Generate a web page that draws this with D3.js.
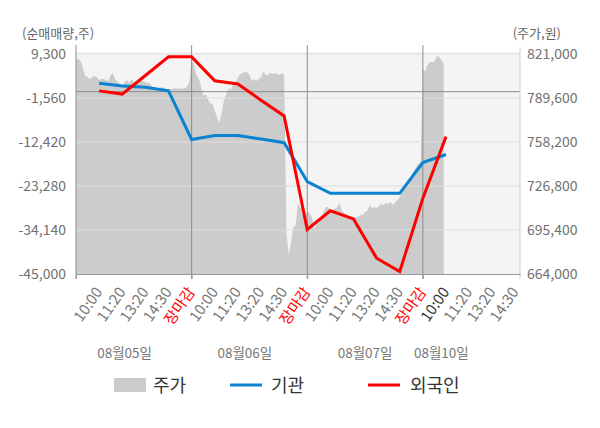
<!DOCTYPE html>
<html>
<head>
<meta charset="utf-8">
<script src="https://cdn.jsdelivr.net/npm/d3@7"></script>
<style>
  body { margin: 0; background: #fff; }
  text { font-family: "Noto Sans CJK KR", "Noto Sans", sans-serif; }
</style>
</head>
<body>
<div id="chart"></div>
<script>
// x labels for slots 1..19
var slotLabels = ["10:00","11:20","13:20","14:30","장마감",
                  "10:00","11:20","13:20","14:30","장마감",
                  "10:00","11:20","13:20","14:30","장마감",
                  "10:00","11:20","13:20","14:30"];
var dayLabels = ["08월05일","08월06일","08월07일","08월10일"];
var daySlots = [2.1, 7.3, 12.5, 15.8];

// net buying, slot 1..16
var flowSlots = [1,2,3,4,5,6,7,8,9,10,11,12,13,14,15,16];
var institution = [2100,1400,1100,200,-11800,-10800,-10800,-11700,-12600,-22200,-25100,-25100,-25100,-25100,-17500,-15500];
var foreign = [200,-600,4000,8600,8600,2700,1900,-2100,-6000,-34000,-29400,-31400,-41100,-44400,-26300,-11100];

// stock price, one value every 0.1 slot from slot 0
var price = [
  816700,817400,816000,811000,805300,804600,803200,804600,805300,804600,
  802400,803200,803200,802400,801700,806000,807400,802400,801700,799600,
  798900,801000,802400,800300,803200,801000,800300,801000,802400,801700,
  801000,800300,800300,797500,796700,796700,796700,797500,796700,796000,
  796000,796000,796000,796700,796000,796700,796000,796700,797500,801000,
  816700,813900,806000,803900,798900,791000,792500,788900,786000,785300,
  780300,776000,771800,779600,788200,792500,796700,795300,800300,801000,
  803900,806700,807400,808200,808200,806000,801700,803200,801700,803200,
  804600,808900,806000,806000,807400,806700,807400,806700,806000,807400,
  806000,694000,677600,686800,697500,699000,714700,711100,711100,706100,
  708200,707500,704700,696100,699700,700400,704000,708200,711800,711800,
  709700,708200,711100,711800,714700,709000,707500,706100,704700,704700,
  704700,704000,704700,706100,706100,708200,709000,713200,711100,711800,
  711100,712500,714000,713200,714700,714000,715400,713200,714700,716800,
  719000,721800,725400,728200,731100,733900,737500,740400,742500,743900,
  809600,808900,813200,815300,815300,815300,819600,818900,816700,813900
];

var leftTicks = [9300, -1560, -12420, -23280, -34140, -45000];
var rightTicks = [821000, 789600, 758200, 726800, 695400, 664000];

var width = 600, height = 428;
var plotL = 76, plotR = 520, plotT = 54, plotB = 274;

var svg = d3.select("#chart").append("svg")
    .attr("width", width)
    .attr("height", height);

var x = d3.scaleLinear().domain([0, 19.2]).range([plotL, plotR]);
var yL = d3.scaleLinear().domain([-45000, 9300]).range([plotB, plotT]);
var yR = d3.scaleLinear().domain([664000, 821000]).range([plotB, plotT]);

// plot background
svg.append("rect")
    .attr("x", plotL).attr("y", plotT - 2)
    .attr("width", plotR - plotL).attr("height", plotB - plotT + 2)
    .attr("fill", "#f4f4f4");

// price area
var area = d3.area()
    .x(function(d, i) { return x(i * 0.1); })
    .y0(yR(664000))
    .y1(function(d) { return yR(d); });

svg.append("path")
    .datum(price)
    .attr("d", area)
    .attr("fill", "#cccccc");

// horizontal grid
svg.append("g").selectAll("line")
  .data(leftTicks.slice(0, 5))
  .join("line")
    .attr("x1", plotL).attr("x2", plotR)
    .attr("y1", d => yL(d)).attr("y2", d => yL(d))
    .attr("stroke", "#dddddd");

// zero line
svg.append("line")
    .attr("x1", plotL).attr("x2", plotR)
    .attr("y1", yL(0)).attr("y2", yL(0))
    .attr("stroke", "#8c8c8c");

// day separators
svg.append("g").selectAll("line")
  .data([5, 10, 15])
  .join("line")
    .attr("x1", d => x(d)).attr("x2", d => x(d))
    .attr("y1", 45).attr("y2", plotB + 5)
    .attr("stroke", "#8c8c8c");

// axes lines
svg.append("line")
    .attr("x1", plotL).attr("x2", plotL)
    .attr("y1", 45).attr("y2", plotB + 5)
    .attr("stroke", "#8c8c8c");
svg.append("line")
    .attr("x1", plotR).attr("x2", plotR)
    .attr("y1", 47).attr("y2", plotB + 5)
    .attr("stroke", "#cfcfcf");

var xAxis = svg.append("g")
    .attr("transform", `translate(0,${plotB})`)
    .call(d3.axisBottom(x).tickValues([0, 5, 10, 15]).tickFormat("").tickSize(5).tickSizeOuter(0));
xAxis.select(".domain").attr("stroke", "#9a9a9a");
xAxis.selectAll(".tick line").attr("stroke", "#9a9a9a");

// y axes labels
var fmt = function(d) { return d3.format(",")(d).replace("\u2212", "-"); };
var gL = svg.append("g")
    .attr("transform", `translate(${plotL},0)`)
    .call(d3.axisLeft(yL).tickValues(leftTicks).tickFormat(fmt).tickSize(0).tickPadding(10));
gL.select(".domain").remove();
gL.selectAll("text")
    .style("font-size", "14px")
    .style("font-family", "'Noto Sans CJK KR', 'Noto Sans', sans-serif")
    .attr("fill", "#707070");

var gR = svg.append("g")
    .attr("transform", `translate(${plotR},0)`)
    .call(d3.axisRight(yR).tickValues(rightTicks).tickFormat(fmt).tickSize(0).tickPadding(7));
gR.select(".domain").remove();
gR.selectAll("text")
    .style("font-size", "14px")
    .style("font-family", "'Noto Sans CJK KR', 'Noto Sans', sans-serif")
    .attr("fill", "#707070");

// unit labels
svg.append("text")
    .attr("x", 22).attr("y", 38)
    .attr("fill", "#666")
    .style("font-size", "13px")
    .text("(순매매량,주)");
svg.append("text")
    .attr("x", 561).attr("y", 38)
    .attr("text-anchor", "end")
    .attr("fill", "#666")
    .style("font-size", "13px")
    .text("(주가,원)");

// lines
var line = d3.line()
    .x(function(d, i) { return x(flowSlots[i]); })
    .y(function(d) { return yL(d); });

svg.append("path")
    .datum(institution)
    .attr("d", line)
    .attr("fill", "none")
    .attr("stroke", "#0a83d0")
    .attr("stroke-width", 3);

svg.append("path")
    .datum(foreign)
    .attr("d", line)
    .attr("fill", "none")
    .attr("stroke", "#ff0000")
    .attr("stroke-width", 3);

// x tick labels
svg.append("g").selectAll("text")
  .data(slotLabels)
  .join("text")
    .attr("transform", (d, i) => `translate(${x(i + 1) + 4},${plotB + 18}) rotate(-55)`)
    .attr("text-anchor", "end")
    .attr("fill", (d, i) => d === "장마감" ? "#ff0000" : (i === 15 ? "#333333" : "#777777"))
    .style("font-size", "15px")
    .text(d => d);

// day labels
svg.append("g").selectAll("text")
  .data(dayLabels)
  .join("text")
    .attr("x", (d, i) => x(daySlots[i]))
    .attr("y", 358)
    .attr("text-anchor", "middle")
    .attr("fill", "#777777")
    .style("font-size", "13.5px")
    .text(d => d);

// legend
var legend = svg.append("g");
legend.append("rect")
    .attr("x", 114).attr("y", 378).attr("width", 32).attr("height", 14)
    .attr("fill", "#cccccc");
legend.append("text").attr("x", 153).attr("y", 392)
    .attr("fill", "#333").style("font-size", "18px").text("주가");
legend.append("line")
    .attr("x1", 230).attr("x2", 262).attr("y1", 385).attr("y2", 385)
    .attr("stroke", "#0a83d0").attr("stroke-width", 3);
legend.append("text").attr("x", 271).attr("y", 392)
    .attr("fill", "#333").style("font-size", "18px").text("기관");
legend.append("line")
    .attr("x1", 368).attr("x2", 400).attr("y1", 385).attr("y2", 385)
    .attr("stroke", "#ff0000").attr("stroke-width", 3);
legend.append("text").attr("x", 410).attr("y", 392)
    .attr("fill", "#333").style("font-size", "18px").text("외국인");
</script>
</body>
</html>
